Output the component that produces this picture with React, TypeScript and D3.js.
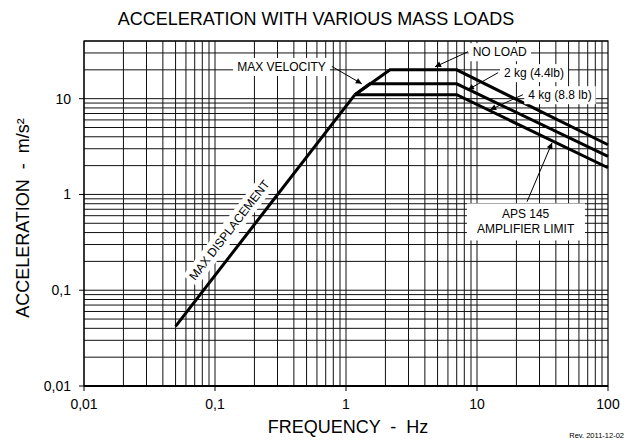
import { useEffect, useRef } from "react";
import * as d3 from "d3";

// axis ticks
const freqTicks = [0.01, 0.1, 1, 10, 100];
const freqTickLabels = ["0,01", "0,1", "1", "10", "100"];
const accTicks = [0.01, 0.1, 1, 10];
const accTickLabels = ["0,01", "0,1", "1", "10"];

// curves (frequency Hz, acceleration m/s²)
const dispFreq = [0.05, 1.17];
const dispAcc = [0.042, 11];
const noLoadFreq = [1.17, 2.17, 7, 100];
const noLoadAcc = [11, 20, 20, 3.3];
const twoKgFreq = [1.17, 1.52, 7, 100];
const twoKgAcc = [11, 14.3, 14.3, 2.5];
const fourKgFreq = [1.17, 7, 100];
const fourKgAcc = [11, 11, 1.9];

// annotations, in data units
const noteLabels = ["MAX VELOCITY", "NO LOAD", "2 kg (4.4lb)", "4 kg (8.8 lb)"];
const noteAt = [[0.322, 21.7], [14.9, 30.9], [27.2, 18.7], [43, 11]];
const noteArrowFrom = [[0.78, 21.7], [8.53, 30.9], [14.5, 18.7], [22.4, 11]];
const noteArrowTo = [[1.32, 14.3], [4.78, 21.5], [8.53, 12.4], [12.6, 7.66]];

const ampLines = ["APS 145", "AMPLIFIER LIMIT"];
const ampAt = [23.5, 0.51];
const ampArrowFrom = [24.1, 0.84];
const ampArrowTo = [37.4, 3.46];

const dispLabel = "MAX DISPLACEMENT";
const dispLabelAt = [0.128, 0.427];

export default function App() {
  const ref = useRef<SVGSVGElement>(null);

  useEffect(() => {
    if (!ref.current) return;
    document.body.style.margin = "0";
    const svg = d3.select(ref.current);
    svg.selectAll("*").remove();

    const font = "'Liberation Sans', Arial, sans-serif";
    const left = 84, right = 608, top = 41, bottom = 386;

    const x = d3.scaleLog().domain([0.01, 100]).range([left, right]);
    const y = d3.scaleLog().domain([0.01, 40]).range([bottom, top]);

    svg
      .append("defs")
      .append("marker")
      .attr("id", "head")
      .attr("viewBox", "0 0 10 10")
      .attr("refX", 10)
      .attr("refY", 5)
      .attr("markerWidth", 7)
      .attr("markerHeight", 6)
      .attr("markerUnits", "userSpaceOnUse")
      .attr("orient", "auto")
      .append("path")
      .attr("d", "M0,0 L10,5 L0,10 z")
      .attr("fill", "#000");

    // grid
    const xGrid: number[] = [];
    for (let d = 0.01; d < 100; d *= 10)
      for (let k = 1; k < 10; k++) xGrid.push(+(d * k).toPrecision(3));
    const yGrid: number[] = [];
    for (let d = 0.01; d < 40; d *= 10)
      for (let k = 1; k < 10; k++) if (d * k <= 40) yGrid.push(+(d * k).toPrecision(3));

    const grid = svg.append("g").attr("stroke", "#111").attr("stroke-width", 1);
    grid
      .selectAll(".vx")
      .data(xGrid)
      .join("line")
      .attr("x1", (d) => x(d))
      .attr("x2", (d) => x(d))
      .attr("y1", top)
      .attr("y2", bottom);
    grid
      .selectAll(".hy")
      .data(yGrid)
      .join("line")
      .attr("x1", left)
      .attr("x2", right)
      .attr("y1", (d) => y(d))
      .attr("y2", (d) => y(d));

    // frame
    svg
      .append("rect")
      .attr("x", left)
      .attr("y", top)
      .attr("width", right - left)
      .attr("height", bottom - top)
      .attr("fill", "none")
      .attr("stroke", "#000")
      .attr("stroke-width", 1.2);
    svg
      .append("line")
      .attr("x1", left)
      .attr("x2", right)
      .attr("y1", bottom)
      .attr("y2", bottom)
      .attr("stroke", "#000")
      .attr("stroke-width", 1.8);

    // ticks + labels
    svg
      .selectAll(".xt")
      .data(freqTicks)
      .join("line")
      .attr("x1", (d) => x(d))
      .attr("x2", (d) => x(d))
      .attr("y1", bottom)
      .attr("y2", bottom + 5)
      .attr("stroke", "#000");
    svg
      .selectAll(".xl")
      .data(freqTicks)
      .join("text")
      .attr("x", (d) => x(d))
      .attr("y", bottom + 23)
      .attr("text-anchor", "middle")
      .style("font-family", font)
      .style("font-size", "14px")
      .text((_, i) => freqTickLabels[i]);
    svg
      .selectAll(".yt")
      .data(accTicks)
      .join("line")
      .attr("x1", left - 5)
      .attr("x2", left)
      .attr("y1", (d) => y(d))
      .attr("y2", (d) => y(d))
      .attr("stroke", "#000");
    svg
      .selectAll(".yl")
      .data(accTicks)
      .join("text")
      .attr("x", left - 13)
      .attr("y", (d) => y(d) + 5)
      .attr("text-anchor", "end")
      .style("font-family", font)
      .style("font-size", "14px")
      .text((_, i) => accTickLabels[i]);

    // curves
    const curve = (fs: number[], as: number[]) =>
      svg
        .append("path")
        .attr(
          "d",
          d3
            .line<number>()
            .x((i) => x(fs[i]))
            .y((i) => y(as[i]))(d3.range(fs.length))
        )
        .attr("fill", "none")
        .attr("stroke", "#000")
        .attr("stroke-width", 3)
        .attr("stroke-linejoin", "miter");
    curve(dispFreq, dispAcc);
    curve(noLoadFreq, noLoadAcc);
    curve(twoKgFreq, twoKgAcc);
    curve(fourKgFreq, fourKgAcc);

    // white box behind a label group
    const boxed = (g: d3.Selection<SVGGElement, unknown, null, undefined>, padX: number, padY: number) => {
      const bb = g.node()!.getBBox();
      g.insert("rect", ":first-child")
        .attr("x", bb.x - padX)
        .attr("y", bb.y - padY)
        .attr("width", bb.width + padX * 2)
        .attr("height", bb.height + padY * 2)
        .attr("fill", "#fff");
    };

    const arrow = (from: number[], to: number[]) =>
      svg
        .append("line")
        .attr("x1", x(from[0]))
        .attr("y1", y(from[1]))
        .attr("x2", x(to[0]))
        .attr("y2", y(to[1]))
        .attr("stroke", "#000")
        .attr("stroke-width", 1)
        .attr("marker-end", "url(#head)");

    noteLabels.forEach((label, i) => {
      const g = svg.append("g");
      g.append("text")
        .attr("x", x(noteAt[i][0]))
        .attr("y", y(noteAt[i][1]) + 4.5)
        .attr("text-anchor", "middle")
        .style("font-family", font)
        .style("font-size", "12px")
        .text(label);
      boxed(g, 4, 2);
      arrow(noteArrowFrom[i], noteArrowTo[i]);
    });

    const amp = svg.append("g");
    ampLines.forEach((l, i) => {
      amp
        .append("text")
        .attr("x", x(ampAt[0]))
        .attr("y", y(ampAt[1]) - 4 + i * 15)
        .attr("text-anchor", "middle")
        .style("font-family", font)
        .style("font-size", "12px")
        .text(l);
    });
    boxed(amp, 10, 4);
    arrow(ampArrowFrom, ampArrowTo);

    const ang =
      (Math.atan2(y(dispAcc[1]) - y(dispAcc[0]), x(dispFreq[1]) - x(dispFreq[0])) * 180) / Math.PI;
    const dg = svg
      .append("g")
      .attr("transform", `translate(${x(dispLabelAt[0])},${y(dispLabelAt[1])}) rotate(${ang})`);
    dg.append("text")
      .attr("x", 0)
      .attr("y", 4.5)
      .attr("text-anchor", "middle")
      .style("font-family", font)
      .style("font-size", "12px")
      .text(dispLabel);
    boxed(dg, 3, 2);

    // titles
    svg
      .append("text")
      .attr("x", 316)
      .attr("y", 25)
      .attr("text-anchor", "middle")
      .style("font-family", font)
      .style("font-size", "18px")
      .text("ACCELERATION WITH VARIOUS MASS LOADS");
    svg
      .append("text")
      .attr("x", 348)
      .attr("y", 433)
      .attr("text-anchor", "middle")
      .style("font-family", font)
      .style("font-size", "18px")
      .style("white-space", "pre")
      .text("FREQUENCY  -  Hz");
    svg
      .append("text")
      .attr("transform", "translate(29,218) rotate(-90)")
      .attr("text-anchor", "middle")
      .style("font-family", font)
      .style("font-size", "18px")
      .style("white-space", "pre")
      .text("ACCELERATION  -  m/s²");
    svg
      .append("text")
      .attr("x", 624)
      .attr("y", 438)
      .attr("text-anchor", "end")
      .style("font-family", font)
      .style("font-size", "7.5px")
      .text("Rev. 2011-12-02");
  }, []);

  return <svg ref={ref} width={627} height={440} style={{ display: "block", background: "#fff" }} />;
}
